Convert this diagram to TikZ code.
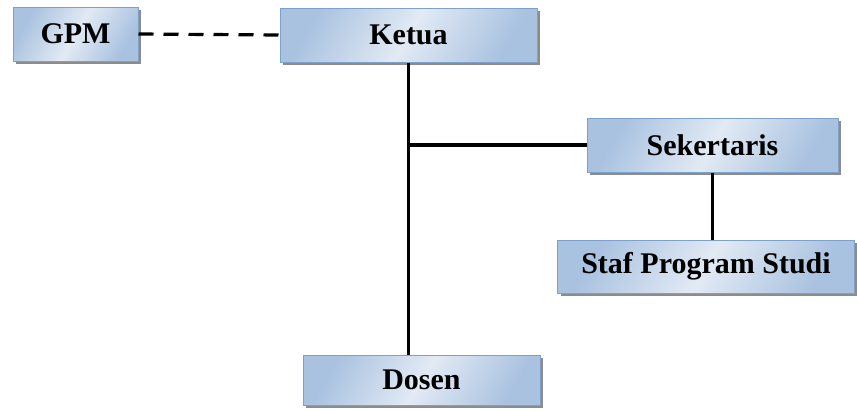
\documentclass[tikz,border=0pt]{standalone}
\usepackage{fontspec}
\setmainfont{Liberation Serif}
\usetikzlibrary{shadows}
\definecolor{boxedge}{HTML}{7EA1CC}
\definecolor{boxdark}{HTML}{A9C2E0}
\definecolor{boxlight}{HTML}{E2EAF4}

\tikzset{
  orgbox/.style={draw=boxedge, line width=1pt, left color=boxdark, right color=boxdark,
    middle color=boxlight, shading angle=60,
    drop shadow={shadow xshift=3pt, shadow yshift=-3pt, fill=black!45, opacity=1},
    font=\bfseries\fontsize{30}{34}\selectfont, inner sep=0pt},
  link/.style={line width=3.2pt}
}

\begin{document}
\begin{tikzpicture}[x=1pt,y=-1pt]
\useasboundingbox (0,0) rectangle (857,410);
\node[orgbox, minimum width=125pt, minimum height=54pt] (gpm) at (75.5,34) {GPM};
\node[orgbox, minimum width=257pt, minimum height=54pt] (ketua) at (408.5,35) {Ketua};
\node[orgbox, minimum width=251pt, minimum height=54pt] (sek) at (712.5,145) {Sekertaris};
\node[orgbox, minimum width=297pt, minimum height=53pt] (staf) at (706,266.5) {Staf Program Studi};
\node[orgbox, minimum width=237pt, minimum height=50pt] (dosen) at (421.5,380) {Dosen};
\coordinate (cabang) at (ketua.south |- sek.west);
\draw[link, dash pattern=on 15pt off 10pt] (gpm.east) -- (ketua.west);
\draw[link] (ketua.south) -- (ketua.south |- dosen.north);
\draw[link] (cabang) -- (sek.west);
\draw[link] (sek.south) -- (sek.south |- staf.north);
\end{tikzpicture}
\end{document}
